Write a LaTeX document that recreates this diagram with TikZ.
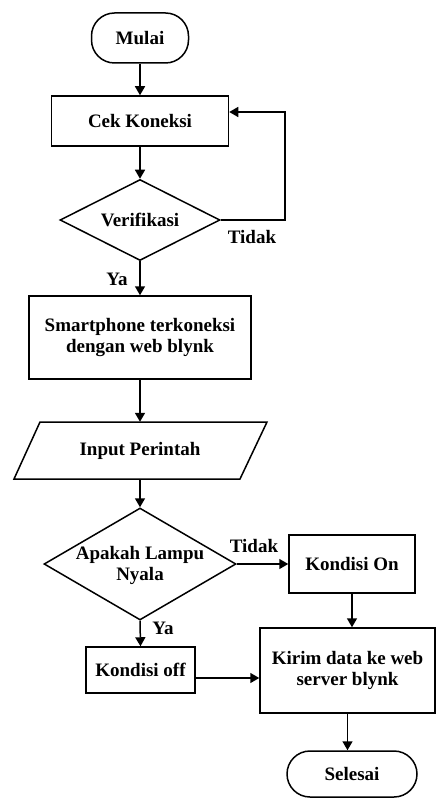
\documentclass[tikz,border=0pt]{standalone}
\usepackage{fontspec}
\setmainfont{Liberation Serif}
\usetikzlibrary{shapes.geometric,arrows.meta,calc}
\begin{document}
\begin{tikzpicture}[x=1pt,y=-1pt,
  every node/.style={font=\fontsize{19}{21}\selectfont\bfseries, inner sep=0pt},
  box/.style={draw, line width=1.5pt, rectangle, align=center},
  term/.style={draw, line width=1.5pt, rectangle, rounded corners=23pt},
  dia/.style={draw, line width=1.5pt, diamond, inner sep=0pt},
  lbl/.style={font=\fontsize{19}{21}\selectfont\bfseries},
  arr/.style={line width=1.5pt, -{Triangle[length=9pt,width=10pt]}},
  ln/.style={line width=1.5pt}]
\useasboundingbox (0,0) rectangle (436,799);
\node[term, minimum width=97pt, minimum height=50pt] (mulai) at (140,38) {Mulai};
\node[box, minimum width=177pt, minimum height=50pt] (cek) at (140,121) {Cek Koneksi};
\node[dia, minimum width=160pt, minimum height=81pt] (ver) at (140,220) {};
\node at (ver) {Verifikasi};
\node[box, minimum width=222pt, minimum height=83pt] (smart) at (140,337.5) {Smartphone terkoneksi\\dengan web blynk};
\node[minimum width=200pt, minimum height=57pt] (inp) at (140,450.5) {Input Perintah};
\draw[ln] (40,422) -- (267,422) -- (240,479) -- (14,479) -- cycle;
\node[dia, minimum width=192pt, minimum height=112pt] (lamp) at (140,564) {};
\node[align=center] at (140,565) {Apakah Lampu\\Nyala};
\node[box, minimum width=126pt, minimum height=58pt] (on) at (352,564) {Kondisi On};
\node[box, minimum width=109pt, minimum height=46pt] (off) at (140.5,670) {Kondisi off};
\node[box, minimum width=175pt, minimum height=85pt] (kirim) at (347.5,670.5) {Kirim data ke web\\server blynk};
\node[term, minimum width=130pt, minimum height=46pt] (sel) at (352,774) {Selesai};
% connectors
\draw[arr] (mulai.south) -- (cek.north);
\draw[arr] (cek.south) -- (ver.north);
\coordinate (lp) at (285,112);
\draw[arr] (ver.east) -| (lp) -- (cek.east |- lp);
\node[lbl] at (252,237) {Tidak};
\draw[arr] (ver.south) -- (smart.north);
\node[lbl] at (117,279) {Ya};
\draw[arr] (smart.south) -- (inp.north);
\draw[arr] (inp.south) -- (lamp.north);
\draw[arr] (lamp.east) -- (on.west);
\node[lbl] at (254,546) {Tidak};
\draw[arr] (lamp.south) -- (off.north);
\node[lbl] at (163,628) {Ya};
\draw[arr] (on.south) -- (on.south |- kirim.north);
\coordinate (oe) at ($(off.east)+(0,8)$);
\draw[arr] (oe) -- (kirim.west |- oe);
\draw[arr] (kirim.south) -- (kirim.south |- sel.north);
\end{tikzpicture}
\end{document}
